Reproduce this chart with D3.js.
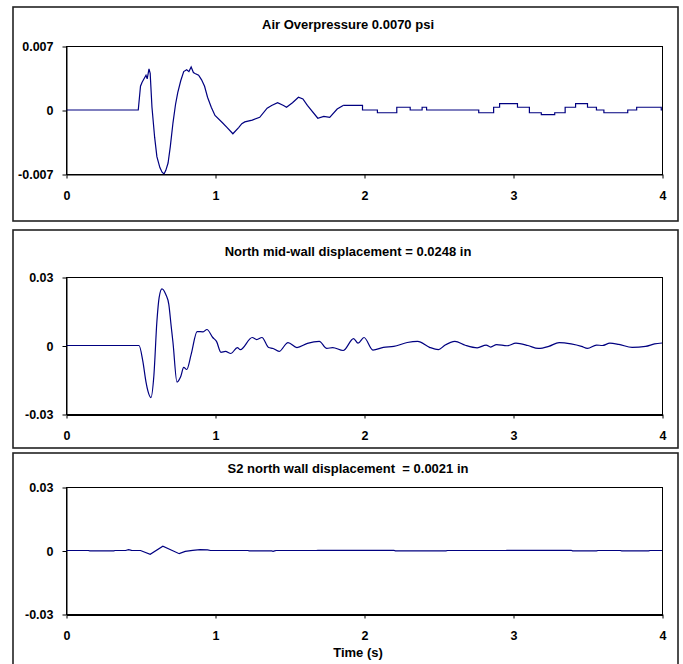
<!DOCTYPE html>
<html>
<head>
<meta charset="utf-8">
<script src="https://cdn.jsdelivr.net/npm/d3@7"></script>
<style>
  body { margin: 0; background: #fff; }
  svg { display: block; font-family: "Liberation Sans", Arial, sans-serif; }
  .tick text { font-size: 12.5px; font-weight: bold; fill: #000; }
  .tick line { stroke: #000; }
  .domain { stroke: #000; }
  .title { white-space: pre; }
</style>
</head>
<body>
<div id="chart"></div>
<script>
// axes
const timeTicks = [0, 1, 2, 3, 4];
const airTicks = [-0.007, 0, 0.007];
const airTickLabels = ['-0.007', '0', '0.007'];
const dispTicks = [-0.03, 0, 0.03];
const dispTickLabels = ['-0.03', '0', '0.03'];

const titles = [
  'Air Overpressure 0.0070 psi',
  'North mid-wall displacement = 0.0248 in',
  'S2 north wall displacement  = 0.0021 in'
];

// air overpressure, smooth part (s, psi)
const airTime = [0, 0.485, 0.50, 0.51, 0.52, 0.537, 0.545, 0.557, 0.565, 0.577, 0.595, 0.61,
  0.63, 0.645, 0.658, 0.67, 0.685, 0.70, 0.718, 0.735, 0.75, 0.77, 0.79, 0.81, 0.825, 0.84,
  0.855, 0.866, 0.89, 0.91, 0.93, 0.95, 0.975, 1.0, 1.05, 1.08, 1.12, 1.16, 1.18, 1.2, 1.25,
  1.30, 1.35, 1.38, 1.42, 1.46, 1.48, 1.52, 1.56, 1.59, 1.62, 1.69, 1.73, 1.77, 1.82, 1.86];
const airValue = [0, 0, 0.0026, 0.0030, 0.0033, 0.0038, 0.0034, 0.0045, 0.0040, 0.0003,
  -0.0030, -0.0051, -0.0063, -0.0068, -0.0070, -0.0066, -0.0058, -0.0040, -0.0014, 0.0006,
  0.0019, 0.0032, 0.0042, 0.0044, 0.0042, 0.0047, 0.0041, 0.0040, 0.0038, 0.0033, 0.0026,
  0.0014, 0.0003, -0.0006, -0.0014, -0.0019, -0.0026, -0.0019, -0.0015, -0.0013, -0.0011,
  -0.0008, 0.0002, 0.0005, 0.0008, 0.0005, 0.0003, 0.0008, 0.0014, 0.0012, 0.0005, -0.0009,
  -0.0007, -0.0008, 0.0001, 0.0005];
// air overpressure, quantised tail (step after)
const airStepTime = [1.86, 1.99, 2.09, 2.22, 2.31, 2.39, 2.42, 2.77, 2.87, 2.91, 3.03, 3.11,
  3.19, 3.28, 3.35, 3.42, 3.50, 3.56, 3.61, 3.77, 3.83, 3.995, 4.0];
const airStepValue = [0.0005, 0, -0.0003, 0.0003, 0, 0.0003, 0, -0.0003, 0.0003, 0.0007,
  0.0003, -0.0003, -0.0005, -0.0003, 0.0003, 0.0007, 0.0003, 0, -0.0003, 0, 0.0003, 0, 0];

// north mid-wall displacement (s, in)
const northTime = [0, 0.49, 0.515, 0.537, 0.55, 0.57, 0.59, 0.61, 0.625, 0.644, 0.67, 0.69,
  0.705, 0.718, 0.745, 0.77, 0.79, 0.81, 0.84, 0.88, 0.92, 0.946, 0.985, 1.01, 1.04, 1.07,
  1.107, 1.15, 1.17, 1.25, 1.28, 1.315, 1.36, 1.39, 1.43, 1.49, 1.55, 1.62, 1.70, 1.75, 1.79,
  1.86, 1.93, 1.96, 2.0, 2.06, 2.13, 2.20, 2.29, 2.36, 2.44, 2.50, 2.54, 2.61, 2.68, 2.76,
  2.82, 2.85, 2.89, 2.96, 3.02, 3.10, 3.17, 3.24, 3.31, 3.39, 3.46, 3.50, 3.56, 3.60, 3.65,
  3.71, 3.80, 3.89, 3.95, 4.0];
const northValue = [0, 0, -0.0066, -0.016, -0.020, -0.0228, -0.013, 0.0105, 0.021, 0.0248,
  0.0223, 0.018, 0.009, 0.0013, -0.016, -0.0136, -0.0096, -0.0105, -0.0039, 0.0061, 0.006,
  0.007, 0.0035, 0.0018, -0.003, -0.0026, -0.0035, -0.0009, -0.0018, 0.0035, 0.0026, 0.0035,
  -0.0009, -0.0013, -0.0026, 0.0013, -0.0009, 0.0009, 0.0018, -0.0013, -0.0009, -0.0022,
  0.003, 0.001, 0.0035, -0.002, -0.0008, -0.0004, 0.0013, 0.0018, -0.0008, -0.0018, 0,
  0.0018, 0.0001, -0.001, 0.0002, -0.0007, 0.0004, -0.0001, 0.001, 0, -0.0013, -0.0004,
  0.0013, 0.0007, -0.0004, -0.0013, 0.0002, 0, 0.001, 0.0005, -0.0008, -0.0004, 0.0007, 0.0011];

// S2 north wall displacement (s, in)
const s2Time = [0, 0.15, 0.16, 0.32, 0.33, 0.40, 0.42, 0.44, 0.50, 0.565, 0.65, 0.76, 0.80,
  0.85, 0.90, 0.95, 0.97, 1.22, 1.23, 1.38, 1.39, 1.40, 1.41, 1.68, 1.69, 2.20, 2.21, 2.55,
  2.56, 2.95, 2.96, 3.39, 3.40, 3.56, 3.57, 3.72, 3.73, 3.91, 3.92, 4.0];
const s2Value = [0, 0, -0.0002, -0.0002, 0, 0, 0.0004, 0.0001, 0, -0.0018, 0.002, -0.0015,
  -0.0004, 0.0001, 0.0004, 0.0003, 0, 0, -0.0002, -0.0002, -0.0004, -0.0002, 0, 0, 0.0001,
  0.0001, -0.0002, -0.0002, 0, 0, 0.0001, 0.0001, -0.0002, -0.0002, 0, 0, -0.0002, -0.0002,
  0, 0];

const panels = [
  { top: 7, bottom: 221, plotTop: 46, plotBottom: 174, titleY: 29, yTicks: airTicks, yLabels: airTickLabels, domain: [-0.007, 0.007], axisW: 1,
    series: [{ t: airTime, v: airValue, curve: d3.curveLinear }, { t: airStepTime, v: airStepValue, curve: d3.curveStepAfter }] },
  { top: 230, bottom: 448, plotTop: 277, plotBottom: 414, titleY: 256, yTicks: dispTicks, yLabels: dispTickLabels, domain: [-0.03, 0.03], axisW: 2,
    series: [{ t: northTime, v: northValue, curve: d3.curveMonotoneX }] },
  { top: 453, bottom: 680, plotTop: 487, plotBottom: 614, titleY: 473, yTicks: dispTicks, yLabels: dispTickLabels, domain: [-0.03, 0.03], axisW: 2,
    series: [{ t: s2Time, v: s2Value, curve: d3.curveLinear }] }
];

const W = 683, H = 664;
const boxLeft = 13, boxRight = 678;
const plotLeft = 66, plotRight = 662;

const svg = d3.select('#chart').append('svg').attr('width', W).attr('height', H);

const x = d3.scaleLinear().domain([0, 4]).range([plotLeft, plotRight]);

panels.forEach((p, i) => {
  const y = d3.scaleLinear().domain(p.domain).range([p.plotBottom, p.plotTop]);

  // outer chart box
  svg.append('rect')
    .attr('x', boxLeft).attr('y', p.top)
    .attr('width', boxRight - boxLeft).attr('height', p.bottom - p.top)
    .attr('fill', '#fff').attr('stroke', '#222').attr('stroke-width', 1.6);

  svg.append('text')
    .attr('class', 'title')
    .attr('x', 348).attr('y', p.titleY)
    .attr('text-anchor', 'middle')
    .style('font-size', '13px').style('font-weight', 'bold')
    .text(titles[i]);

  // plot area border
  svg.append('rect')
    .attr('x', plotLeft + 0.5).attr('y', p.plotTop + 0.5)
    .attr('width', plotRight - plotLeft).attr('height', p.plotBottom - p.plotTop)
    .attr('fill', 'none').attr('stroke', '#000').attr('stroke-width', 1);

  const g = svg.append('g');

  p.series.forEach(s => {
    const line = d3.line()
      .x((d, j) => x(s.t[j]))
      .y((d, j) => y(s.v[j]))
      .curve(s.curve);
    g.append('path')
      .datum(s.v)
      .attr('d', line)
      .attr('fill', 'none')
      .attr('stroke', '#000080')
      .attr('stroke-width', 1.2);
  });

  svg.append('g')
    .attr('transform', `translate(${plotLeft + 0.5},0.5)`)
    .call(d3.axisLeft(y).tickValues(p.yTicks).tickSize(4).tickSizeOuter(0).tickPadding(9)
      .tickFormat((d, j) => p.yLabels[j]));

  const xAxis = svg.append('g')
    .attr('transform', `translate(0.5,${p.plotBottom + 0.5})`)
    .call(d3.axisBottom(x).tickValues(timeTicks).tickSize(4).tickSizeOuter(0).tickPadding(13)
      .tickFormat(d3.format('d')));
  xAxis.select('.domain').attr('stroke-width', p.axisW);
});

svg.append('text')
  .attr('x', 358).attr('y', 657)
  .attr('text-anchor', 'middle')
  .style('font-size', '13px').style('font-weight', 'bold')
  .text('Time (s)');
</script>
</body>
</html>
